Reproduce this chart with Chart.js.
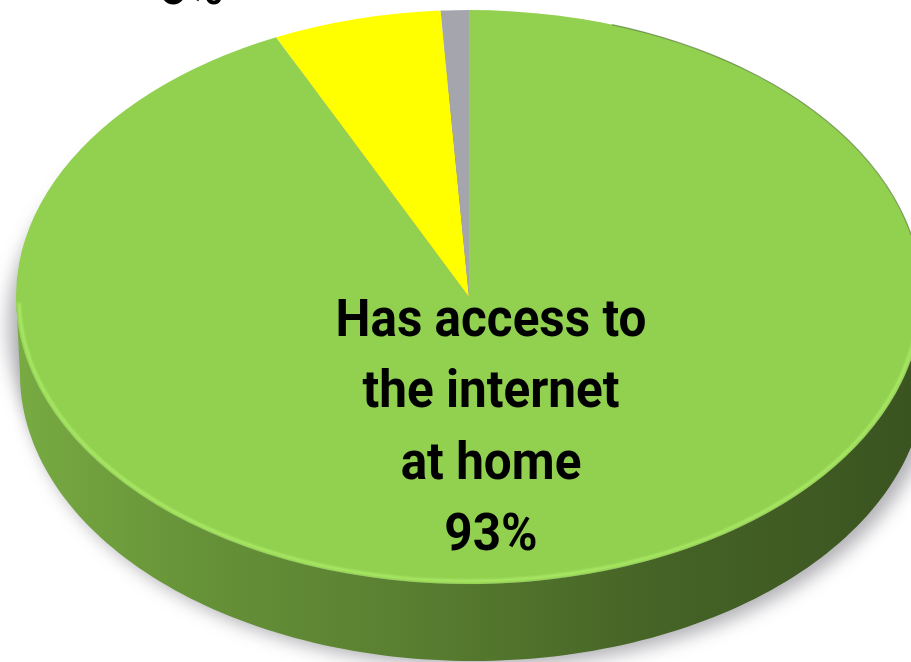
<!DOCTYPE html>
<html>
<head>
<meta charset="utf-8">
<script src="https://cdn.jsdelivr.net/npm/chart.js@4.4.1/dist/chart.umd.min.js"></script>
<style>
  html, body { margin: 0; padding: 0; background: #ffffff; overflow: hidden; }
  #wrap { width: 911px; height: 662px; position: relative; }
  canvas { display: block; }
</style>
</head>
<body>
<div id="wrap"><canvas id="pie" width="911" height="662"></canvas></div>
<script>
// Internet access at home (share of respondents, %)
const categories = [
  'Has access to the internet at home',
  'Does not have access to the internet at home',
  'Not sure'
];
const shares = [93, 6, 1];
const sliceColors = ['#92d050', '#ffff00', '#a5a5ad'];
// wrapped label lines for the big slice
const mainLabelLines = ['Has access to', 'the internet', 'at home'];

// tilted-disc geometry: top face ellipse, wall depth and slight sideways drift of the base
const DISC = { cx: 469, cy: 297, rx: 453, ry: 287, depth: 77, drift: 4 };

function shade(hex, f) {
  const n = parseInt(hex.slice(1), 16);
  const r = Math.round(((n >> 16) & 255) * f);
  const g = Math.round(((n >> 8) & 255) * f);
  const b = Math.round((n & 255) * f);
  return `rgb(${r},${g},${b})`;
}

function ellipsePoint(a, k) {
  return [DISC.cx + DISC.rx * Math.cos(a) + DISC.drift * k,
          DISC.cy + DISC.ry * Math.sin(a) + DISC.depth * k];
}

// Draws the pie as a tilted 3D disc: side wall + drop shadow underneath,
// then squashes the library's own arcs into the top face.
const tiltPlugin = {
  id: 'tilt',
  beforeDatasetsDraw(chart) {
    const ctx = chart.ctx;
    const meta = chart.getDatasetMeta(0);
    const first = meta.data[0];
    const R = first.outerRadius;

    // soft shadow under the disc
    ctx.save();
    ctx.filter = 'blur(9px)';
    ctx.fillStyle = 'rgba(70,70,80,0.42)';
    ctx.beginPath();
    ctx.ellipse(DISC.cx + DISC.drift + 8, DISC.cy + DISC.depth + 6, DISC.rx + 1, DISC.ry, 0, 0, Math.PI * 2);
    ctx.fill();
    ctx.beginPath();
    ctx.ellipse(DISC.cx - 4, DISC.cy + 30, DISC.rx + 4, DISC.ry, 0, 0, Math.PI * 2);
    ctx.fill();
    ctx.restore();

    // side wall of each slice where it faces the viewer
    meta.data.forEach((arc, i) => {
      const s = arc.startAngle, e = arc.endAngle;
      for (let k = -1; k <= 1; k++) {
        const lo = Math.max(s, 2 * Math.PI * k);
        const hi = Math.min(e, 2 * Math.PI * k + Math.PI);
        if (hi <= lo) continue;
        const col = sliceColors[i];
        const grad = ctx.createLinearGradient(DISC.cx - DISC.rx, 0, DISC.cx + DISC.rx, 0);
        grad.addColorStop(0.0, shade(col, 0.82));
        grad.addColorStop(0.2, shade(col, 0.70));
        grad.addColorStop(0.45, shade(col, 0.60));
        grad.addColorStop(0.7, shade(col, 0.48));
        grad.addColorStop(1.0, shade(col, 0.40));
        ctx.save();
        ctx.beginPath();
        const steps = 140;
        for (let j = 0; j <= steps; j++) {
          const t = lo + (hi - lo) * j / steps;
          const p = ellipsePoint(t, 0);
          if (j === 0) ctx.moveTo(p[0], p[1]); else ctx.lineTo(p[0], p[1]);
        }
        for (let j = steps; j >= 0; j--) {
          const t = lo + (hi - lo) * j / steps;
          const p = ellipsePoint(t, 1);
          ctx.lineTo(p[0], p[1]);
        }
        ctx.closePath();
        ctx.fillStyle = grad;
        ctx.fill();
        ctx.restore();
      }
    });

    // squash the pie into the top face
    ctx.save();
    ctx.translate(DISC.cx, DISC.cy);
    ctx.scale(DISC.rx / R, DISC.ry / R);
    ctx.translate(-first.x, -first.y);
  },
  afterDatasetsDraw(chart) {
    const ctx = chart.ctx;
    ctx.restore();

    // bevel highlight along the front rim of the top face
    ctx.save();
    ctx.filter = 'blur(1.2px)';
    ctx.strokeStyle = 'rgba(172,236,104,0.9)';
    ctx.lineWidth = 3;
    ctx.beginPath();
    ctx.ellipse(DISC.cx, DISC.cy, DISC.rx - 3, DISC.ry - 3, 0, 0.08, Math.PI - 0.02);
    ctx.stroke();
    ctx.restore();

    // thin dark rim on the upper right edge
    ctx.save();
    ctx.strokeStyle = 'rgba(60,95,30,0.55)';
    ctx.lineWidth = 1.2;
    ctx.beginPath();
    ctx.ellipse(DISC.cx, DISC.cy, DISC.rx, DISC.ry, 0, -1.25, 0.1);
    ctx.stroke();
    ctx.restore();

    // data labels
    ctx.save();
    ctx.fillStyle = '#000000';
    ctx.font = 'bold 51px Roboto';
    ctx.textAlign = 'center';
    ctx.textBaseline = 'alphabetic';
    const lines = mainLabelLines.concat([shares[0] + '%']);
    lines.forEach((t, j) => {
      ctx.save();
      ctx.translate(491, 336 + j * 71.3);
      ctx.scale(0.97, 1);
      ctx.fillText(t, 0, 0);
      ctx.restore();
    });
    // label of the yellow slice, sitting above the top edge
    ctx.save();
    ctx.translate(191, 4);
    ctx.scale(0.97, 1);
    ctx.fillText(shares[1] + '%', 0, 0);
    ctx.restore();
    ctx.restore();
  }
};

new Chart(document.getElementById('pie'), {
  type: 'pie',
  data: {
    labels: categories,
    datasets: [{
      data: shares,
      backgroundColor: sliceColors,
      borderWidth: 0
    }]
  },
  options: {
    responsive: false,
    animation: false,
    layout: { padding: 0 },
    plugins: {
      legend: { display: false },
      tooltip: { enabled: false }
    }
  },
  plugins: [tiltPlugin]
});
</script>
</body>
</html>
